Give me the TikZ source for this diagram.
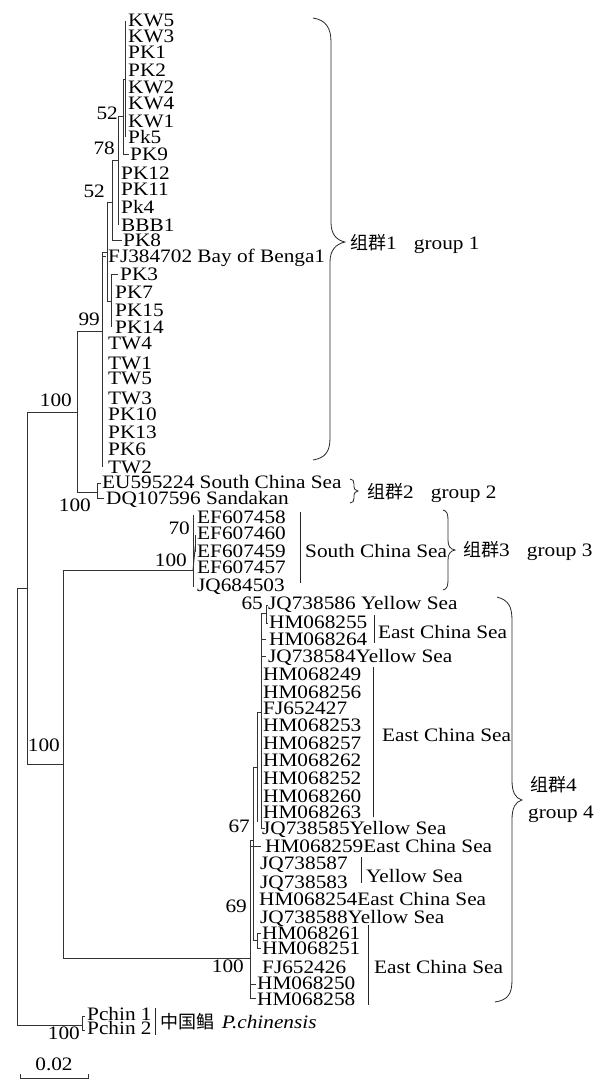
\documentclass[tikz,border=0pt]{standalone}
\usepackage{fontspec}
\usetikzlibrary{calc}
\setmainfont{Liberation Serif}[FakeStretch=1.12]
\newfontfamily\cjk{Noto Sans CJK SC}
\begin{document}
\begin{tikzpicture}[x=1pt,y=-1pt]
\tikzset{
  lf/.style={anchor=base west, inner sep=0pt, text height=11pt, text depth=1.5pt, font=\fontsize{19}{19}\selectfont},
  bs/.style={anchor=base east, inner sep=0pt, text height=11pt, text depth=1.5pt, font=\fontsize{19}{19}\selectfont},
  grp/.style={anchor=base west, inner sep=0pt, text height=12pt, text depth=2pt, font=\fontsize{19}{19}\selectfont},
  tr/.style={line width=0.9pt, black!80},
  br/.style={line width=0.8pt, black!85},
}
\useasboundingbox (0,0) rectangle (600,1080);
% ---------- leaves ----------
\foreach \n/\x/\y/\t in {
  kwa/128/26.5/KW5, kwb/128/42/KW3, pka/128/58.5/PK1, pkb/128/76.5/PK2,
  kwc/128/93.5/KW2, kwd/128/109.5/KW4, kwe/128/127.5/KW1, pkc/128/143.5/Pk5,
  pkd/130/160.5/PK9, pke/121/179.5/PK12, pkf/121/195.5/PK11, pkg/121/213.5/Pk4,
  bbb/121/231.5/BBB1, pkh/123/246.5/PK8, fja/108/262.5/FJ384702 Bay of Benga1,
  pki/120/280.5/PK3, pkj/115/298.5/PK7, pkk/115/316.5/PK15, pkl/115/333.5/PK14,
  twa/108/349.5/TW4, twb/108/369.5/TW1, twc/108/384.5/TW5, twd/108/404.5/TW3,
  pkm/108/420.5/PK10, pkn/108/438.5/PK13, pko/108/455.5/PK6, twe/108/473.5/TW2,
  eua/102/488.5/EU595224 South China Sea, dqa/106/504.5/DQ107596 Sandakan,
  efa/197/523.5/EF607458, efb/197/539.5/EF607460, efc/197/557.5/EF607459,
  efd/197/573.5/EF607457, jqa/197/591.5/JQ684503,
  jqb/268/609.5/JQ738586 Yellow Sea, hma/269/628.5/HM068255, hmb/269/645.5/HM068264,
  jqc/268/662.5/JQ738584Yellow Sea, hmc/263/680.5/HM068249, hmd/263/698.5/HM068256,
  fjb/263/714.5/FJ652427, hme/263/731.5/HM068253, hmf/263/749.5/HM068257,
  hmg/263/766.5/HM068262, hmh/263/784.5/HM068252, hmi/263/802.5/HM068260,
  hmj/263/818.5/HM068263, jqd/262/834.5/JQ738585Yellow Sea,
  hmk/265/852.5/HM068259East China Sea, jqe/260/869.5/JQ738587, jqf/260/888.5/JQ738583,
  hml/259/905.5/HM068254East China Sea, jqg/260/923.5/JQ738588Yellow Sea,
  hmm/262/939.5/HM068261, hmn/262/954.5/HM068251, fjc/262/973.5/FJ652426,
  hmo/257/989.5/HM068250, hmp/257/1005/HM068258,
  pca/87/1020.5/Pchin 1, pcb/87/1034/Pchin 2}
  \node[lf] (\n) at (\x,\y) {\t};
% ---------- bootstrap values ----------
\foreach \n/\x/\y/\t in {
  ba/118/119.5/52, bb/115/154.5/78, bc/105/197.5/52, bd/100/325.5/99,
  be/72/406.5/100, bf/91/511.5/100, bg/190/534.5/70, bh/187/566.5/100,
  bi/263/609.5/65, bj/60/751.5/100, bk/250/832.5/67, bl/247/912.5/69,
  bm/244/972.5/100, bn/80/1039/100}
  \node[bs] (\n) at (\x,\y) {\t};
% ---------- internal nodes ----------
\coordinate (root) at (17,588);
\coordinate (nA) at (27,588);
\coordinate (n7) at (77,412);
\coordinate (n6) at (102,331);
\coordinate (n4) at (107,252);
\coordinate (n3) at (112,202);
\coordinate (n2) at (118,160);
\coordinate (n1) at (123,116.5);
\coordinate (n0) at (125.5,79);
\coordinate (n5) at (111,301);
\coordinate (n8) at (97,492);
\coordinate (n10) at (63,764);
\coordinate (n11) at (193,570);
\coordinate (n70) at (195.5,544);
\coordinate (g4) at (250,958);
\coordinate (n67) at (253.5,840);
\coordinate (n57) at (257,767);
\coordinate (n61) at (261,712);
\coordinate (n66) at (266,613);
\coordinate (n62) at (257,940);
\coordinate (pc) at (82,1025);
% ---------- branches ----------
\draw[tr] (root) -- (nA);
\draw[tr] (root) |- (pc);
\draw[tr] (pc) |- (85,1016);
\draw[tr] (pc) |- (85,1030);
\draw[tr] (nA) |- (n7);
\draw[tr] (nA) |- (n10);
\draw[tr] (n7) |- (n6);
\draw[tr] (n7) |- (n8);
\draw[tr] (n8) |- (101,483);
\draw[tr] (n8) |- (104,498);
\draw[tr] (n6) |- (n4);
\draw[tr] (n6) |- (102,467);
\draw[tr] (102,256) -- (106,256);
\draw[tr] (n4) |- (n3);
\draw[tr] (n4) |- (n5);
\draw[tr] (n5) |- (118,274);
\draw[tr] (n5) |- (111,327);
\draw[tr] (n3) |- (n2);
\draw[tr] (n3) |- (122,240);
\draw[tr] (n2) |- (n1);
\draw[tr] (n2) |- (118,225);
\draw[tr] (n1) |- (n0);
\draw[tr] (n1) |- (129,154);
\draw[tr] (n0) |- (125.5,21);
\draw[tr] (n0) |- (125.5,137);
\draw[tr] (n10) |- (n11);
\draw[tr] (n10) |- (g4);
\draw[tr] (n11) |- (193,515);
\draw[tr] (n11) |- (193,587);
\draw[tr] (n11) -- (n70);
\draw[tr, line width=1.4pt] (n70) |- (195.5,535);
\draw[tr, line width=1.4pt] (n70) |- (195.5,552);
\draw[tr] (g4) |- (n67);
\draw[tr] (g4) |- (261,846);
\draw[tr] (g4) |- (256,984);
\draw[tr] (g4) |- (256,998);
\draw[tr] (n67) |- (n57);
\draw[tr] (n67) |- (n62);
\draw[tr] (n62) |- (261,933);
\draw[tr] (n62) |- (261,948);
\draw[tr] (n57) |- (n61);
\draw[tr] (n57) |- (257,822);
\draw[tr] (n61) |- (n66);
\draw[tr] (n61) |- (265,828);
\draw[tr] (n61) |- (266,639);
\draw[tr] (n61) |- (266,656);
\draw[tr] (n66) |- (268,605);
\draw[tr] (n66) |- (268,623);
% ---------- region bars and labels ----------
\draw[br] (300,512) -- (300,583);
\node[lf] (scs) at (305,557.5) {South China Sea};
\draw[br] (374,615) -- (374,643);
\node[lf] (ecsa) at (378,638.5) {East China Sea};
\draw[br] (373,667) -- (373,817);
\node[lf] (ecsb) at (382,741.5) {East China Sea};
\draw[br] (361,857) -- (361,883);
\node[lf] (ysa) at (366,882.5) {Yellow Sea};
\draw[br] (368,925) -- (368,1005);
\node[lf] (ecsc) at (374,973.5) {East China Sea};
\draw[br] (155,1008) -- (155,1035);
\node[lf] (pchn) at (160,1028.5) {{\cjk\fontsize{18}{18}\selectfont 中国鲳}\hspace{0.4em}\textit{P.chinensis}};
% ---------- braces ----------
\draw[br] (313,18) .. controls (326,20) and (331,28) .. (331,42) -- (331,222)
  .. controls (331,234) and (336,240) .. (345,242)
  .. controls (336,244) and (330,250) .. (330,262) -- (330,438)
  .. controls (330,452) and (325,458) .. (313,460);
\draw[br] (350,479) .. controls (353,479) and (354,481) .. (354,484) -- (354,487)
  .. controls (354,489) and (355,490) .. (358,491)
  .. controls (355,492) and (354,493) .. (354,495) -- (354,498)
  .. controls (354,501) and (353,503) .. (350,503);
\draw[br] (443,510) .. controls (447,511) and (448,514) .. (448,520) -- (448,540)
  .. controls (448,546) and (450,549) .. (455,550)
  .. controls (450,551) and (448,554) .. (448,560) -- (448,580)
  .. controls (448,586) and (447,589) .. (443,590);
\draw[br] (497,597) .. controls (508,600) and (512,606) .. (512,620) -- (512,780)
  .. controls (512,792) and (515,798) .. (522,800)
  .. controls (515,802) and (512,808) .. (512,820) -- (512,980)
  .. controls (512,994) and (508,1000) .. (495,1002);
\node[grp] (ga) at (350,249.5) {{\cjk\fontsize{18}{18}\selectfont 组群}1\hspace{0.9em}group 1};
\node[grp] (gb) at (367,498.5) {{\cjk\fontsize{18}{18}\selectfont 组群}2\hspace{0.9em}group 2};
\node[grp] (gc) at (463,556.5) {{\cjk\fontsize{18}{18}\selectfont 组群}3\hspace{0.9em}group 3};
\node[grp] (gd) at (530,791.5) {{\cjk\fontsize{18}{18}\selectfont 组群}4};
\node[grp] (ge) at (528,818.5) {group 4};
% ---------- scale bar ----------
\coordinate (sba) at (20,1078);
\coordinate (sbb) at (88,1078);
\draw[tr] ($(sba)+(0,-4)$) -- (sba) -- (sbb) -- ($(sbb)+(0,-4)$);
\node[anchor=base, inner sep=0pt, font=\fontsize{19}{19}\selectfont] (sbl) at (54,1070.5) {0.02};
\end{tikzpicture}
\end{document}
